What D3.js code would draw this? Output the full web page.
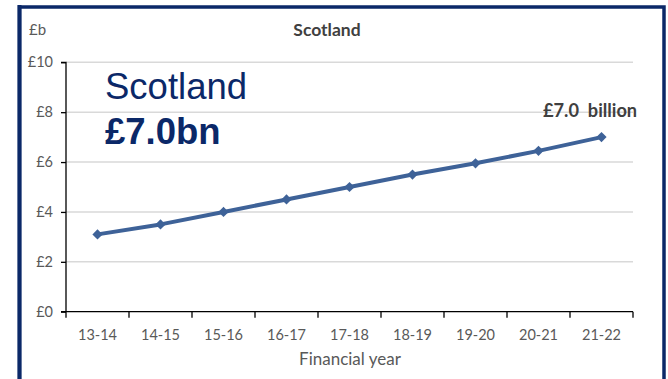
<!DOCTYPE html>
<html><head><meta charset="utf-8">
<script src="https://cdn.jsdelivr.net/npm/d3@7"></script>
<style>body{margin:0;background:#fff;}svg{display:block;}</style>
</head><body>
<svg id="chart" width="668" height="379"></svg>
<script>
const years = ["13-14","14-15","15-16","16-17","17-18","18-19","19-20","20-21","21-22"];
const values = [3.1, 3.5, 4.0, 4.5, 5.0, 5.5, 5.95, 6.45, 7.0];
const yTicks = [0, 2, 4, 6, 8, 10];
const title = "Scotland";
const bigTitle = "Scotland";
const bigValue = "£7.0bn";
const endLabel = "£7.0  billion";
const yUnit = "£b";
const xTitle = "Financial year";

const svg = d3.select("#chart");
const navy = "#0b2868";
const grey = "#595959";
const lineCol = "#3e6298";
const font = "Lato, 'Open Sans', sans-serif";

// frame
svg.append("rect").attr("x",19.5).attr("y",7).attr("width",644.5).attr("height",380)
  .attr("fill","none").attr("stroke",navy).attr("stroke-width",3.5);
svg.append("line").attr("x1",19.5).attr("x2",19.5).attr("y1",5).attr("y2",379).attr("stroke",navy).attr("stroke-width",4);

const x = d3.scaleBand().domain(years).range([66, 633]);
const y = d3.scaleLinear().domain([0, 10]).range([311.7, 62.3]);

// gridlines
svg.append("g").selectAll("line").data(yTicks.filter(d=>d>0)).join("line")
  .attr("x1",66).attr("x2",633).attr("y1",d=>y(d)).attr("y2",d=>y(d))
  .attr("stroke","#d9d9d9").attr("stroke-width",1.5);

// y axis
const yAxis = svg.append("g").attr("transform","translate(66,0)")
  .call(d3.axisLeft(y).tickValues(yTicks).tickSize(5).tickPadding(8).tickFormat(d=>"£"+d));
yAxis.select(".domain").attr("stroke","#000").attr("stroke-width",1.3).attr("d","M-5,"+y(10)+"H0V"+y(0));
yAxis.selectAll(".tick line").attr("stroke","#000").attr("stroke-width",1.3);
yAxis.selectAll("text").attr("fill",grey).style("font-family",font).style("font-size","14.5px");

// x axis
const xAxis = svg.append("g").attr("transform","translate(0,"+y(0)+")");
xAxis.append("line").attr("x1",61).attr("x2",633).attr("y1",0).attr("y2",0).attr("stroke","#000").attr("stroke-width",1.3);
const bounds = years.map(d=>x(d)).concat([633]);
xAxis.selectAll("line.t").data(bounds).join("line").attr("class","t")
  .attr("x1",d=>d).attr("x2",d=>d).attr("y1",0).attr("y2",6).attr("stroke","#000").attr("stroke-width",1.3);
xAxis.selectAll("text").data(years).join("text")
  .attr("x",d=>x(d)+x.bandwidth()/2).attr("y",28).attr("text-anchor","middle")
  .attr("fill",grey).style("font-family",font).style("font-size","14.5px").text(d=>d);

// axis titles
svg.append("text").attr("x",350).attr("y",365).attr("text-anchor","middle").attr("fill",grey)
  .style("font-family",font).style("font-size","17px").text(xTitle);
svg.append("text").attr("x",29).attr("y",35).attr("fill",grey)
  .style("font-family",font).style("font-size","15px").text(yUnit);
svg.append("text").attr("x",327).attr("y",36).attr("text-anchor","middle").attr("fill","#404040")
  .style("font-family",font).style("font-size","17.5px").style("font-weight","bold").text(title);

// line
const line = d3.line().x((d,i)=>x(years[i])+x.bandwidth()/2).y(d=>y(d));
svg.append("path").datum(values).attr("d",line).attr("fill","none").attr("stroke",lineCol).attr("stroke-width",4).attr("stroke-linejoin","round");
svg.append("g").selectAll("path").data(values).join("path")
  .attr("transform",(d,i)=>"translate("+(x(years[i])+x.bandwidth()/2)+","+y(d)+") rotate(45)")
  .attr("d",d3.symbol().type(d3.symbolSquare).size(52)).attr("fill",lineCol);

// end label
svg.append("text").attr("x",543).attr("y",117).attr("fill","#404040")
  .style("font-family",font).style("font-size","18.2px").style("font-weight","bold")
  .style("white-space","pre").text(endLabel);

// big text
svg.append("text").attr("x",105).attr("y",99).attr("fill",navy)
  .style("font-family","'Liberation Sans', Arial, sans-serif").style("font-size","36.5px").text(bigTitle);
svg.append("text").attr("x",105).attr("y",143.5).attr("fill",navy)
  .style("font-family","'Liberation Sans', Arial, sans-serif").style("font-size","36.5px").style("font-weight","bold").text(bigValue);
</script>
</body></html>
